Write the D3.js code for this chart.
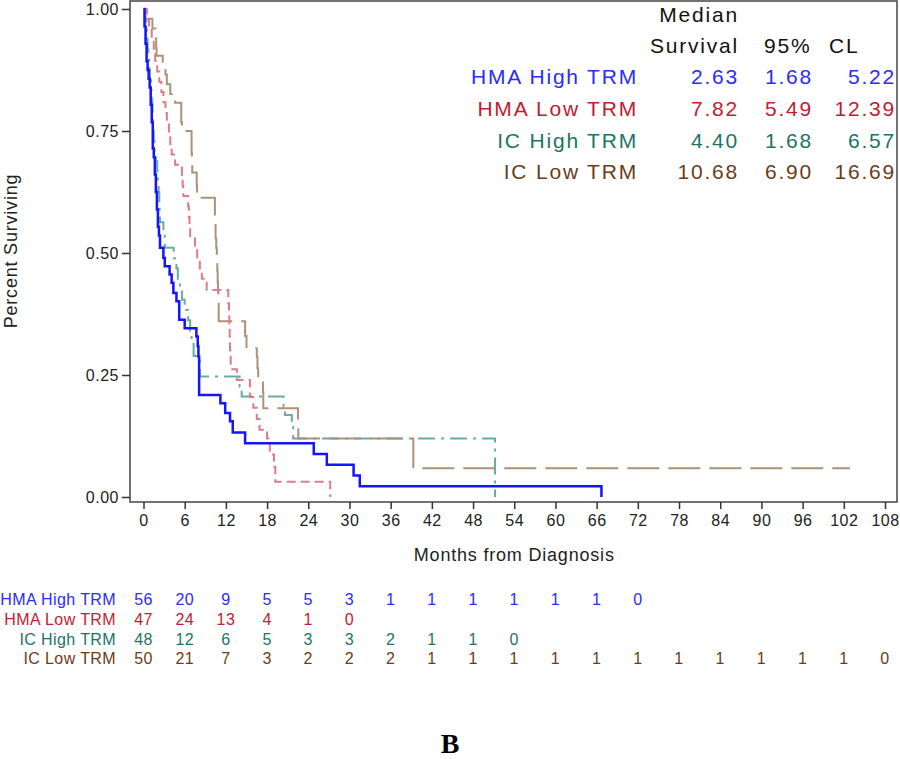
<!DOCTYPE html>
<html>
<head>
    <meta charset="utf-8">
    <title>Kaplan-Meier by TRM group</title>
    <script type="text/javascript" src="https://cdn.jsdelivr.net/npm/d3@7"></script>
    <style>
        body { margin: 0; background: #fff; }
        svg text { font-family: "Liberation Sans", Arial, sans-serif; }
        path.km { fill: none; }
    </style>
</head>
<body>
<script type="text/javascript">
// step points [months, survival]
var hmaHigh = [[0,1],[0.15,0.964],[0.3,0.929],[0.45,0.893],[0.6,0.875],[0.75,0.857],[0.9,0.839],
    [1.05,0.804],[1.2,0.768],[1.35,0.714],[1.5,0.696],[1.65,0.661],[1.8,0.625],[1.95,0.589],
    [2.1,0.554],[2.25,0.536],[2.4,0.511],[2.9,0.49],[3.1,0.473],[3.8,0.456],[4.1,0.439],
    [4.35,0.418],[4.8,0.401],[5.2,0.363],[6.0,0.346],[7.7,0.329],[7.9,0.309],[8.0,0.288],
    [8.1,0.209],[11.2,0.192],[11.9,0.172],[12.6,0.155],[13.0,0.132],[14.8,0.11],[24.8,0.088],
    [26.7,0.066],[30.6,0.044],[31.5,0.022],[66.7,0]];
var hmaLow = [[0,1],[0.5,0.979],[0.8,0.957],[1.2,0.936],[1.5,0.915],[1.7,0.894],[2.0,0.872],
    [2.3,0.851],[2.6,0.83],[2.9,0.809],[3.2,0.787],[3.4,0.766],[3.7,0.745],[3.9,0.723],
    [4.1,0.702],[4.6,0.681],[5.6,0.66],[5.7,0.638],[5.8,0.617],[6.5,0.596],[6.6,0.574],
    [6.7,0.553],[6.8,0.532],[7.5,0.511],[7.82,0.489],[8.2,0.468],[8.5,0.447],[9.2,0.424],
    [12.35,0.397],[12.45,0.373],[12.5,0.349],[12.55,0.325],[12.6,0.3],[12.7,0.262],
    [13.6,0.24],[15.5,0.205],[16.0,0.183],[16.5,0.16],[16.9,0.138],[18.0,0.12],[18.2,0.11],
    [18.4,0.087],[19.0,0.062],[19.2,0.031],[27.2,0]];
var icHigh = [[0,1],[0.2,0.979],[0.4,0.958],[0.5,0.938],[0.6,0.917],[0.7,0.896],[0.85,0.875],
    [0.95,0.854],[1.1,0.833],[1.2,0.813],[1.3,0.792],[1.35,0.771],[1.4,0.75],[1.5,0.729],
    [1.6,0.708],[1.8,0.688],[2.0,0.667],[2.1,0.646],[2.2,0.625],[2.3,0.604],[2.35,0.583],
    [2.4,0.563],[2.9,0.542],[3.1,0.511],[4.4,0.489],[4.8,0.468],[5.0,0.446],[5.3,0.425],
    [5.6,0.404],[6.0,0.383],[6.5,0.362],[6.8,0.34],[7.0,0.319],[7.3,0.289],[8.2,0.247],
    [14.0,0.226],[14.3,0.206],[20.4,0.185],[20.6,0.168],[21.6,0.144],[21.8,0.12],[51.2,0]];
var icLow = [[0,1],[0.3,0.98],[1.3,0.96],[1.75,0.94],[1.85,0.92],[1.9,0.904],[2.8,0.887],
    [3.2,0.866],[3.4,0.846],[3.9,0.826],[4.6,0.808],[5.5,0.768],[5.6,0.75],[7.0,0.706],
    [7.05,0.685],[7.1,0.665],[7.75,0.64],[7.8,0.613],[10.4,0.57],[10.5,0.53],[10.6,0.51],
    [10.68,0.49],[10.75,0.463],[10.8,0.44],[10.85,0.42],[10.9,0.398],[10.95,0.36],
    [14.8,0.33],[15.0,0.305],[16.5,0.288],[16.6,0.264],[16.7,0.24],[17.4,0.215],
    [17.45,0.182],[22.5,0.15],[22.55,0.12],[39.3,0.059],[102.9,0.059]];

var groupNames = ["HMA High TRM", "HMA Low TRM", "IC High TRM", "IC Low TRM"];
var medians = ["2.63", "7.82", "4.40", "10.68"];
var lowerCL = ["1.68", "5.49", "1.68", "6.90"];
var upperCL = ["5.22", "12.39", "6.57", "16.69"];

var atRiskHmaHigh = [56, 20, 9, 5, 5, 3, 1, 1, 1, 1, 1, 1, 0];
var atRiskHmaLow = [47, 24, 13, 4, 1, 0];
var atRiskIcHigh = [48, 12, 6, 5, 3, 3, 2, 1, 1, 0];
var atRiskIcLow = [50, 21, 7, 3, 2, 2, 2, 1, 1, 1, 1, 1, 1, 1, 1, 1, 1, 1, 0];

var xTicks = d3.range(0, 109, 6);
var yTicks = [0, 0.25, 0.5, 0.75, 1];

var textColors = ["#2b2bff", "#c41a32", "#1c7466", "#6b3c18"];
var lineColors = ["#1414ff", "#dc7c88", "#66aca3", "#ab9378"];
var dashes = [null, "9,5", "17,6,3,6", "32,9"];
var widths = [2.5, 2, 2, 2];

var curves = [hmaHigh, hmaLow, icHigh, icLow];
var atRisk = [atRiskHmaHigh, atRiskHmaLow, atRiskIcHigh, atRiskIcLow];

var width = 900, height = 759;
var frame = {left: 130, top: 1, right: 897, bottom: 502};

var svg = d3.select("body").append("svg")
        .attr("width", width)
        .attr("height", height);

var x = d3.scaleLinear().domain([0, 108]).range([143.5, 885]);
var y = d3.scaleLinear().domain([0, 1]).range([497, 9]);

// frame
svg.append("rect")
        .attr("x", frame.left)
        .attr("y", frame.top)
        .attr("width", frame.right - frame.left)
        .attr("height", frame.bottom - frame.top)
        .attr("fill", "none")
        .attr("stroke", "#444")
        .attr("stroke-width", 1.5);

// axes
var yAxis = d3.axisLeft(y)
        .tickValues(yTicks)
        .tickFormat(d3.format(".2f"))
        .tickSize(8)
        .tickPadding(3);

svg.append("g")
        .attr("class", "y axis")
        .attr("transform", "translate(" + frame.left + ",0)")
        .call(yAxis);

var xAxis = d3.axisBottom(x)
        .tickValues(xTicks)
        .tickFormat(d3.format("d"))
        .tickSize(7)
        .tickPadding(6);

svg.append("g")
        .attr("class", "x axis")
        .attr("transform", "translate(0," + frame.bottom + ")")
        .call(xAxis);

svg.selectAll("g.axis path.domain").remove();
svg.selectAll("g.axis line").attr("stroke", "#333").attr("stroke-width", 1.5);
svg.selectAll("g.axis text")
        .attr("fill", "#222")
        .style("font-size", "16px")
        .style("letter-spacing", "0.5px");

svg.append("text")
        .attr("x", (x(0) + x(108)) / 2)
        .attr("y", 561)
        .attr("text-anchor", "middle")
        .attr("fill", "#222")
        .style("font-size", "18px")
        .style("letter-spacing", "0.8px")
        .text("Months from Diagnosis");

svg.append("text")
        .attr("transform", "translate(17,251) rotate(-90)")
        .attr("text-anchor", "middle")
        .attr("fill", "#222")
        .style("font-size", "18px")
        .style("letter-spacing", "0.8px")
        .text("Percent Surviving");

// survival curves
var line = d3.line()
        .curve(d3.curveStepAfter)
        .x(function (d) { return x(d[0]); })
        .y(function (d) { return y(d[1]); });

var drawOrder = [2, 3, 1, 0];
svg.append("g").selectAll("path.km")
        .data(drawOrder)
        .enter()
        .append("path")
        .attr("class", "km")
        .attr("d", function (i) { return line(curves[i]); })
        .attr("stroke", function (i) { return lineColors[i]; })
        .attr("stroke-width", function (i) { return widths[i]; })
        .attr("stroke-dasharray", function (i) { return dashes[i]; });

// median survival inset
var legendG = svg.append("g").attr("class", "legend")
        .style("font-size", "21px")
        .style("letter-spacing", "1.8px");

legendG.append("text").attr("x", 739).attr("y", 22).attr("text-anchor", "end")
        .attr("fill", "#111").text("Median");
legendG.append("text").attr("x", 739).attr("y", 53).attr("text-anchor", "end")
        .attr("fill", "#111").text("Survival");
legendG.append("text").attr("x", 764).attr("y", 53)
        .attr("fill", "#111").text("95%");
legendG.append("text").attr("x", 829).attr("y", 53)
        .attr("fill", "#111").text("CL");

var rowY = [84, 116, 147.5, 179];
groupNames.forEach(function (name, i) {
    var cols = [[638, name], [739, medians[i]], [813, lowerCL[i]], [896, upperCL[i]]];
    cols.forEach(function (c) {
        legendG.append("text")
                .attr("x", c[0])
                .attr("y", rowY[i])
                .attr("text-anchor", "end")
                .attr("fill", textColors[i])
                .text(c[1]);
    });
});

// number at risk
var riskY = [604.5, 624.5, 644.5, 663.5];
var riskG = svg.append("g").attr("class", "at-risk")
        .style("font-size", "16px")
        .style("letter-spacing", "0.4px");

groupNames.forEach(function (name, i) {
    riskG.append("text")
            .attr("x", 116)
            .attr("y", riskY[i])
            .attr("text-anchor", "end")
            .attr("fill", textColors[i])
            .text(name);

    riskG.selectAll("text.n" + i)
            .data(atRisk[i])
            .enter()
            .append("text")
            .attr("class", "n" + i)
            .attr("x", function (d, j) { return x(xTicks[j]); })
            .attr("y", riskY[i])
            .attr("text-anchor", "middle")
            .attr("fill", textColors[i])
            .text(function (d) { return d; });
});

svg.append("text")
        .attr("x", 450)
        .attr("y", 753)
        .attr("text-anchor", "middle")
        .style("font-family", "'Liberation Serif', 'Times New Roman', serif")
        .style("font-weight", "bold")
        .style("font-size", "28px")
        .attr("fill", "#000")
        .text("B");
</script>
</body>
</html>
